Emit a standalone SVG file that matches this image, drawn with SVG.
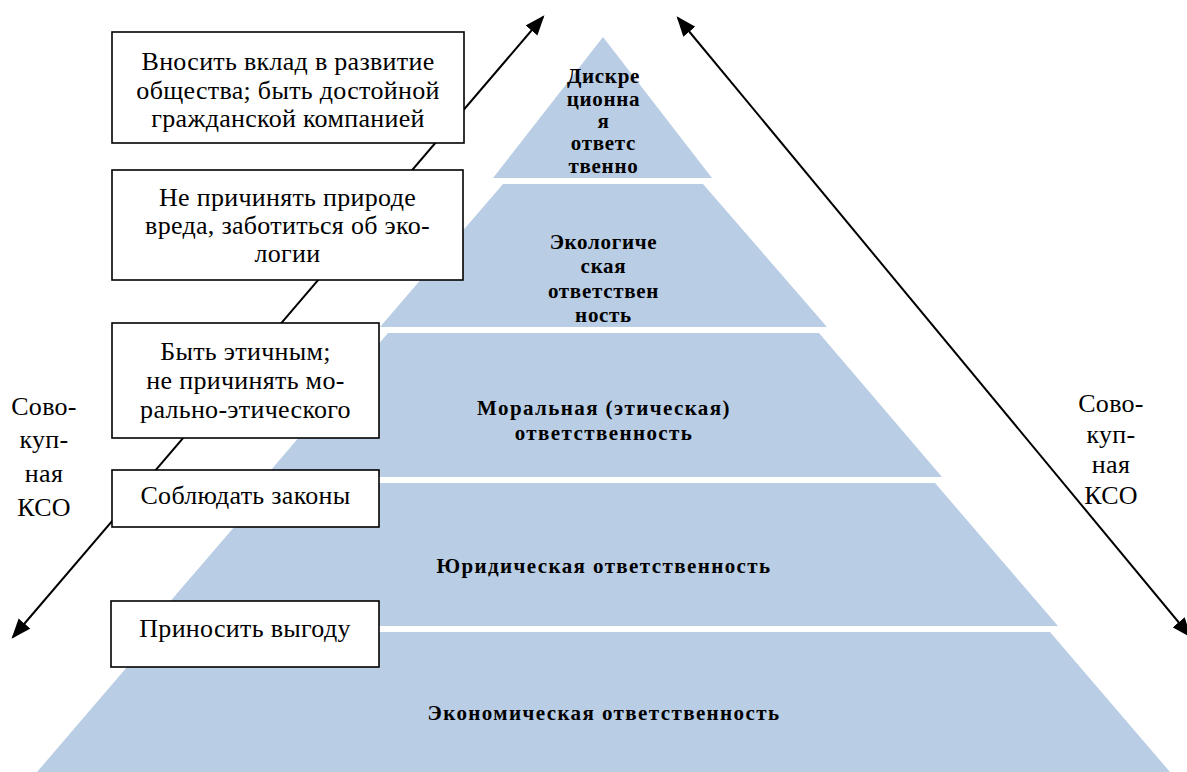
<svg xmlns="http://www.w3.org/2000/svg" width="1187" height="772" viewBox="0 0 1187 772">
<style>
.layer{fill:#B9CDE5;stroke:none}
.lt{font-family:"Liberation Serif","Times New Roman",serif;font-weight:bold;font-size:21px;fill:#000;text-anchor:middle}
.ls{letter-spacing:0.7px}
.lw{letter-spacing:1.4px}
.box{fill:#fff;stroke:#000;stroke-width:1.6}
.bt{font-family:"Liberation Serif","Times New Roman",serif;font-size:26px;fill:#000;text-anchor:middle;letter-spacing:0.3px}
.conn{stroke:#000;stroke-width:2;fill:none}
</style>
<defs>
<marker id="ah" markerUnits="userSpaceOnUse" markerWidth="20" markerHeight="16" refX="16" refY="7" orient="auto-start-reverse" viewBox="0 0 18 14">
<path d="M0,0 L18,7 L0,14 Z" fill="#000"/>
</marker>
</defs>
<rect width="1187" height="772" fill="#fff"/>
<g id="pyramid">
<g id="layer-discretionary">
<polygon class="layer" points="603,37 712,178 493,178"/>
<text class="lt ls"><tspan x="603.5" y="83">Дискре</tspan><tspan x="603.5" y="106">ционна</tspan><tspan x="603.5" y="128">я</tspan><tspan x="603.5" y="150">ответс</tspan><tspan x="603.5" y="173">твенно</tspan></text>
</g>
<g id="layer-ecological">
<polygon class="layer" points="503,184 703,184 827,327 380,327"/>
<text class="lt ls"><tspan x="603.5" y="249">Экологиче</tspan><tspan x="603.5" y="273">ская</tspan><tspan x="603.5" y="298">ответствен</tspan><tspan x="603.5" y="322">ность</tspan></text>
</g>
<g id="layer-moral">
<polygon class="layer" points="388,333 819,333 942,477 265,477"/>
<text class="lt lw"><tspan x="604" y="415">Моральная (этическая)</tspan><tspan x="604" y="440">ответственность</tspan></text>
</g>
<g id="layer-legal">
<polygon class="layer" points="272,483 935,483 1058,626 149,626"/>
<text class="lt lw" x="604" y="573">Юридическая ответственность</text>
</g>
<g id="layer-economic">
<polygon class="layer" points="157,632 1050,632 1170,772 37,772"/>
<text class="lt lw" x="604" y="720">Экономическая ответственность</text>
</g>
</g>
<g id="connectors">
<line class="conn" x1="13" y1="637" x2="543" y2="17" marker-start="url(#ah)" marker-end="url(#ah)"/>
<line class="conn" x1="678" y1="18" x2="1190" y2="636" marker-start="url(#ah)" marker-end="url(#ah)"/>
</g>
<g id="box-society">
<rect class="box" x="112" y="32" width="352" height="111"/>
<text class="bt"><tspan x="288" y="70">Вносить вклад в развитие</tspan><tspan x="288" y="99">общества; быть достойной</tspan><tspan x="288" y="127">гражданской компанией</tspan></text>
</g>
<g id="box-nature">
<rect class="box" x="112" y="170" width="351" height="110"/>
<text class="bt"><tspan x="287.5" y="206">Не причинять природе</tspan><tspan x="287.5" y="234">вреда, заботиться об эко-</tspan><tspan x="287.5" y="262">логии</tspan></text>
</g>
<g id="box-ethics">
<rect class="box" x="112" y="323" width="267" height="115"/>
<text class="bt"><tspan x="245.5" y="360">Быть этичным;</tspan><tspan x="245.5" y="389">не причинять мо-</tspan><tspan x="245.5" y="418">рально-этического</tspan></text>
</g>
<g id="box-laws">
<rect class="box" x="112" y="470" width="267" height="57"/>
<text class="bt" x="245.5" y="504">Соблюдать законы</text>
</g>
<g id="box-profit">
<rect class="box" x="111" y="601" width="268" height="66"/>
<text class="bt" x="245" y="637">Приносить выгоду</text>
</g>
<g id="label-left">
<text class="bt"><tspan x="44" y="415">Сово-</tspan><tspan x="44" y="448">куп-</tspan><tspan x="44" y="482">ная</tspan><tspan x="44" y="516">КСО</tspan></text>
</g>
<g id="label-right">
<text class="bt"><tspan x="1111" y="412">Сово-</tspan><tspan x="1111" y="443">куп-</tspan><tspan x="1111" y="473">ная</tspan><tspan x="1111" y="504">КСО</tspan></text>
</g>
</svg>
